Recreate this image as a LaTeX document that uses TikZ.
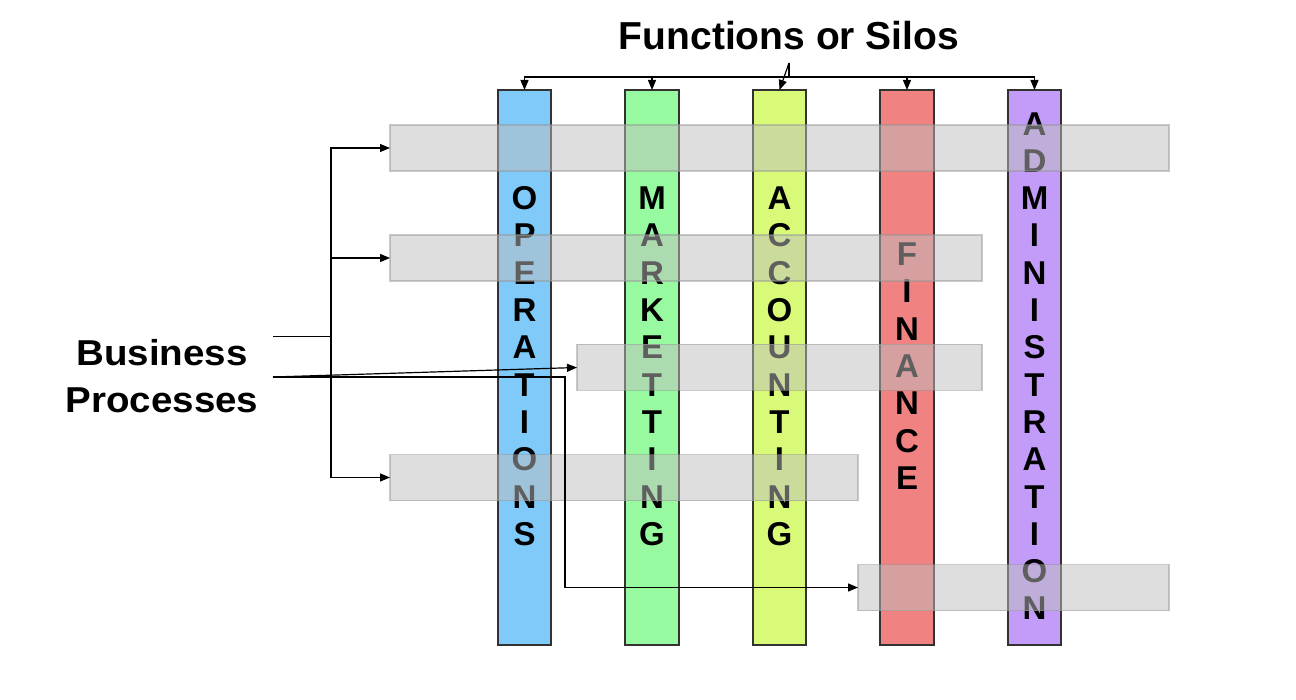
\documentclass[tikz,border=0pt]{standalone}
\usepackage{fontspec}
\setmainfont{Liberation Sans}
\newfontfamily\widefont[FakeStretch=1.07]{Liberation Sans}
\usetikzlibrary{arrows.meta}
\definecolor{colblue}{RGB}{128,202,250}
\definecolor{colgreen}{RGB}{152,250,160}
\definecolor{colyellow}{RGB}{216,250,120}
\definecolor{colred}{RGB}{240,130,130}
\definecolor{colpurple}{RGB}{194,156,248}
\definecolor{bargray}{RGB}{190,190,190}
\definecolor{barline}{RGB}{150,150,150}
\definecolor{coledge}{RGB}{50,50,50}
\newcommand\silotext[4]{%
  \foreach \l [count=\i] in {#3}
    \node[letter] (#2-\i) at (#1, {377.5+(\i-(#4+1)/2)*37.3}) {\l};}
\begin{document}
\begin{tikzpicture}[x=1pt,y=-1pt,
  silo/.style={draw=coledge,line width=1.3pt,minimum width=53pt,minimum height=555pt,inner sep=0pt,outer sep=0pt},
  procbar/.style={fill=bargray,draw=barline,line width=1.5pt,fill opacity=0.5,draw opacity=0.5,minimum height=46pt,inner sep=0pt,outer sep=0pt},
  letter/.style={font=\fontsize{33}{33}\selectfont\bfseries,anchor=base,inner sep=0pt},
  heading/.style={font=\fontsize{39}{46}\selectfont\bfseries,anchor=base,inner sep=0pt},
  label/.style={font=\widefont\fontsize{36}{46}\selectfont\bfseries,anchor=base,inner sep=0pt},
  conn/.style={line width=1.2pt,-{Triangle[length=10pt,width=8pt]}},
  plain/.style={line width=1.2pt}]
\useasboundingbox (0,0) rectangle (1296,700);
\fill[white] (0,0) rectangle (1296,700);

% silos
\node[silo,fill=colblue,minimum width=53pt] (ops) at (524.5,367.5) {};
\node[silo,fill=colgreen,minimum width=54pt] (mkt) at (652,367.5) {};
\node[silo,fill=colyellow,minimum width=53pt] (acc) at (779.5,367.5) {};
\node[silo,fill=colred,minimum width=54pt] (fin) at (907,367.5) {};
\node[silo,fill=colpurple,minimum width=53pt] (adm) at (1034.5,367.5) {};

\silotext{524.5}{opsl}{O,P,E,R,A,T,I,O,N,S}{10}
\silotext{652}{mktl}{M,A,R,K,E,T,T,I,N,G}{10}
\silotext{779.5}{accl}{A,C,C,O,U,N,T,I,N,G}{10}
\silotext{907}{finl}{F,I,N,A,N,C,E}{7}
\silotext{1034.5}{adml}{A,D,M,I,N,I,S,T,R,A,T,I,O,N}{14}

% process bars
\node[procbar,minimum width=779pt] (bar1) at (779.5,148) {};
\node[procbar,minimum width=592pt] (bar2) at (686,258) {};
\node[procbar,minimum width=405pt] (bar3) at (779.5,367.5) {};
\node[procbar,minimum width=468pt] (bar4) at (624,477.5) {};
\node[procbar,minimum width=311pt] (bar5) at (1013.5,587.5) {};

% labels
\node[heading] (title) at (789,50) {Functions or Silos};
\node[label] (bp1) at (162,366) {Business};
\node[label] (bp2) at (162,413) {Processes};

% top connectors
\coordinate (fan) at (789,63);
\foreach \t in {ops,mkt,fin,adm}
  \draw[conn] (fan) -- ++(0,14) -| (\t.north);
\draw[conn] (fan) -- (acc.north);

% left connectors
\coordinate (bpA) at (273,336.7);
\coordinate (bpB) at (273,377);
\draw[conn] (bpA) -- ++(58,0) |- (bar1.west);
\draw[conn] (bpA) -- ++(58,0) |- (bar2.west);
\draw[conn] (bpA) -- ++(58,0) |- (bar4.west);
\draw[conn] (bpB) -- (bar3.west);
\draw[conn] (bpB) -- ++(292,0) |- (bar5.west);
\end{tikzpicture}
\end{document}
